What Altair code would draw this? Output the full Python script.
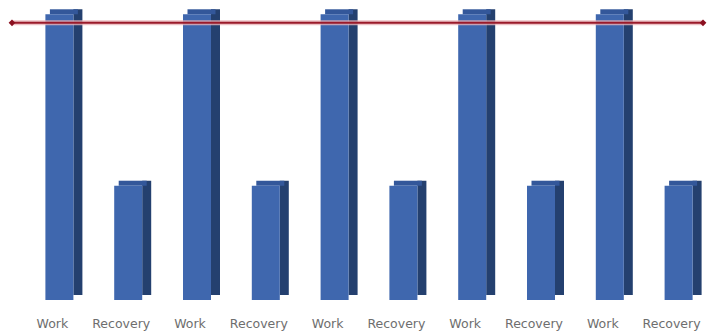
import altair as alt
import pandas as pd

categories = ["Work 1", "Recovery 1", "Work 2", "Recovery 2", "Work 3",
              "Recovery 3", "Work 4", "Recovery 4", "Work 5", "Recovery 5"]
values = [100, 40, 100, 40, 100, 40, 100, 40, 100, 40]
line_pos = [0, 1]
line_values = [97, 97]

bars = pd.DataFrame({"cat": categories, "value": values})
line_df = pd.DataFrame({"pos": line_pos, "value": line_values})

yscale = alt.Scale(domain=[0, 105])
xenc = alt.X("cat:N", sort=categories,
             scale=alt.Scale(paddingInner=0, paddingOuter=0),
             axis=alt.Axis(title=None, labelAngle=0, ticks=False, domain=False,
                           labelPadding=17, labelFont="DejaVu Sans", labelFontSize=12.5,
                           labelColor="#6e6e6e",
                           labelExpr="split(datum.label, ' ')[0]"))

base = alt.Chart(bars)

side = base.mark_bar(size=9, xOffset=25.5, yOffset=-5, y2Offset=-3, color="#24406f").encode(
    x=xenc, y=alt.Y("value:Q", scale=yscale, axis=None)
)
cap = base.mark_bar(size=28, xOffset=11.5, yOffset=-5, y2Offset=0, color="#33579a").encode(
    x=xenc, y=alt.Y("value:Q", scale=yscale, axis=None), y2=alt.Y2("value")
)
front = base.mark_bar(size=28, xOffset=7, color="#3f67ae").encode(
    x=xenc, y=alt.Y("value:Q", scale=yscale, axis=None)
)
bar_layer = alt.layer(side, cap, front)

lx = alt.X("pos:Q", scale=alt.Scale(domain=[0.0087, 1.0043]), axis=None)
lbase = alt.Chart(line_df)
halo = lbase.mark_line(color="#e9b3b8", strokeWidth=5, opacity=0.8).encode(
    x=lx, y=alt.Y("value:Q", scale=yscale, axis=None)
)
line = lbase.mark_line(color="#9a1a2a", strokeWidth=2).encode(
    x=lx, y=alt.Y("value:Q", scale=yscale, axis=None)
)
pts = lbase.mark_point(shape="diamond", filled=True, size=45, color="#8b0f1f", opacity=1).encode(
    x=lx, y=alt.Y("value:Q", scale=yscale, axis=None)
)
line_layer = alt.layer(halo, line, pts)

chart = alt.layer(bar_layer, line_layer).resolve_scale(
    x="independent"
).properties(
    width=688, height=300,
    autosize=alt.AutoSizeParams(type="none"),
    padding={"left": 18, "top": 0, "right": 1, "bottom": 35},
    background="white",
).configure_view(stroke=None)

chart.save("out.html", embed_options={"renderer": "svg", "actions": False})
